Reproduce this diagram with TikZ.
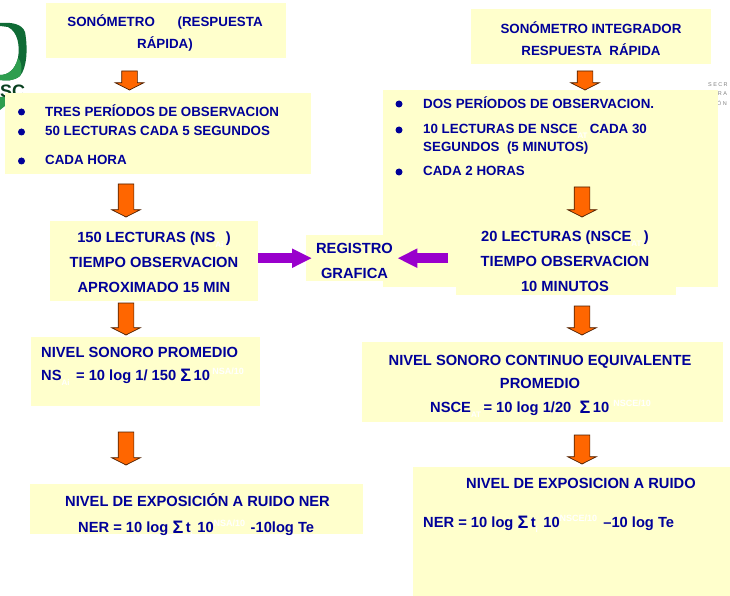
\documentclass[tikz,border=0pt]{standalone}
\usepackage{fontspec}
\setmainfont{Liberation Sans}
\usetikzlibrary{shapes.arrows,arrows.meta}
\definecolor{amarillo}{HTML}{FFFFCC}
\definecolor{azul}{HTML}{000099}
\definecolor{naranja}{HTML}{FF6600}
\definecolor{morado}{HTML}{9900CC}
\definecolor{verde}{HTML}{2E9E4F}
\definecolor{verdeosc}{HTML}{0F6B35}
\newcommand{\bajo}[1]{\raisebox{-5pt}{\fontsize{8}{8}\selectfont\textcolor{white}{#1}}}
\newcommand{\alto}[1]{\raisebox{6pt}{\fontsize{9}{9}\selectfont\textcolor{white}{#1}}}
\newcommand{\suma}{\raisebox{-1pt}{\fontsize{18}{18}\selectfont Σ}}
\tikzset{
	caja/.style={fill=amarillo, inner sep=0pt, anchor=north west},
	texto/.style={text=azul, inner sep=0pt, align=center, font=\fontsize{14.7}{25}\selectfont\bfseries},
	textochico/.style={texto, font=\fontsize{13.35}{22}\selectfont\bfseries},
	punto/.style={circle, fill=azul, inner sep=0pt, minimum size=7pt},
	flecha/.style={single arrow, draw=black!70!naranja, fill=naranja, line width=0.7pt, inner xsep=0pt, inner ysep=7.5pt, minimum width=28pt, single arrow head extend=6.5pt, single arrow tip angle=126, rotate=-90, minimum height=#1},
	flechamorada/.style={draw=morado, line width=10.5pt, -{Triangle[length=20pt,width=18pt]}},
	logotexto/.style={text=black!50, inner sep=0pt, anchor=west, font=\fontsize{5.5}{5.5}\selectfont\addfontfeature{LetterSpace=25}}
}
\begin{document}
\begin{tikzpicture}[x=1pt,y=-1pt]
	\useasboundingbox (0,0) rectangle (730,596);

	% logos behind the boxes
	\path[fill=verdeosc] (0,23) .. controls (12,22) and (22,24) .. (25,32) .. controls (28,48) and (27,68) .. (20,76) .. controls (14,81) and (6,81) .. (0,80) -- (0,75) .. controls (8,75) and (15,70) .. (18,58) .. controls (20,46) and (18,32) .. (8,27) -- (0,26) -- cycle;
	\path[fill=verde] (0,75) .. controls (8,75) and (15,70) .. (18,58) .. controls (21,60) and (23,70) .. (20,76) .. controls (14,81) and (6,81) .. (0,80) -- cycle;
	\path[fill=verde] (0,97) -- (5,97) -- (5,106) -- (0,110) -- cycle;
	\node[text=black!40!verdeosc, inner sep=0pt, anchor=base west, font=\fontsize{18}{18}\selectfont\bfseries] (logoss) at (0,98) {SC};
	\node[logotexto] (secr) at (708,85) {SECR};
	\node[logotexto] (tra) at (713,94) {TRA};
	\node[logotexto] (on) at (717,103) {ÓN};

	% boxes, left column
	\node[caja, minimum width=240pt, minimum height=55pt] (sonometro) at (46,3) {};
	\node[caja, minimum width=306pt, minimum height=81pt] (periodos) at (5,93) {};
	\node[caja, minimum width=208pt, minimum height=80pt] (lecturas) at (50,221) {};
	\node[caja, minimum width=229pt, minimum height=69pt] (promedio) at (31,337) {};
	\node[caja, minimum width=333pt, minimum height=50pt] (exposicion) at (30,484) {};

	% boxes, right column
	\node[caja, minimum width=240pt, minimum height=55pt] (integrador) at (471,9) {};
	\node[caja, minimum width=335pt, minimum height=197pt] (periodosint) at (383,90) {};
	\node[caja, minimum width=220pt, minimum height=70pt] (lecturasint) at (456,225) {};
	\node[caja, minimum width=361pt, minimum height=80pt] (promedioint) at (362,342) {};
	\node[caja, minimum width=317pt, minimum height=129pt] (exposicionint) at (413,467) {};

	% centre box
	\node[caja, minimum width=94pt, minimum height=46pt] (registro) at (306,235) {};

	% texts, left column
	\node[textochico] (tsonometro) at (165,33) {SONÓMETRO\hspace{1.7em}(RESPUESTA\\RÁPIDA)};
	\node[punto] (p1) at (21.5,112) {};
	\node[punto] (p2) at (21.5,132) {};
	\node[punto] (p3) at (21.5,161) {};
	\node[textochico, anchor=west] (t1) at (45,111) {TRES PERÍODOS DE OBSERVACION};
	\node[textochico, anchor=west] (t2) at (45,131) {50 LECTURAS CADA 5 SEGUNDOS};
	\node[textochico, anchor=west] (t3) at (45,160) {CADA HORA};
	\node[texto] (tlecturas) at (154,262.5) {150 LECTURAS (NS\bajo{Ai}\,)\\TIEMPO OBSERVACION\\APROXIMADO 15 MIN};
	\node[texto, anchor=west] (tpromedio) at (41,352) {NIVEL SONORO PROMEDIO};
	\node[texto, anchor=west] (fpromedio) at (41,377) {NS\bajo{Ai}\, = 10 log 1/ 150 \suma\,10\,\alto{NSA/10}};
	\node[texto, anchor=west] (texposicion) at (65,500) {NIVEL DE EXPOSICIÓN A RUIDO NER};
	\node[texto, anchor=west] (fexposicion) at (78,528.5) {NER = 10 log \suma\,t\bajo{i}\,\hspace{2pt}10\alto{NSA/10}\,\hspace{3pt}-10log Te};

	% texts, right column
	\node[textochico] (tintegrador) at (591,39) {SONÓMETRO INTEGRADOR\\RESPUESTA\ \ RÁPIDA};
	\node[punto] (q1) at (399,104) {};
	\node[punto] (q2) at (399,130) {};
	\node[punto] (q3) at (399,172) {};
	\node[textochico, anchor=west] (s1) at (423,103) {DOS PERÍODOS DE OBSERVACION.};
	\node[textochico, anchor=west] (s2) at (423,131.5) {10 LECTURAS DE NSCE\bajo{AT}\,CADA 30};
	\node[textochico, anchor=west] (s2b) at (423,148) {SEGUNDOS\ \ (5 MINUTOS)};
	\node[textochico, anchor=west] (s3) at (423,171) {CADA 2 HORAS};
	\node[texto] (tlecturasint) at (565,261) {20 LECTURAS (NSCE\bajo{AT}\,)\\TIEMPO OBSERVACION\\10 MINUTOS};
	\node[texto] (tpromedioint) at (540,372) {NIVEL SONORO CONTINUO EQUIVALENTE\\[-1.5pt]PROMEDIO};
	\node[texto, anchor=west] (fpromedioint) at (430,408.5) {NSCE\bajo{AT}\,= 10 log 1/20\ \ \suma\,10\ \alto{NSCE/10}};
	\node[texto, anchor=west] (texposicionint) at (466,483) {NIVEL DE EXPOSICION A RUIDO};
	\node[texto, anchor=west] (fexposicionint) at (423,523.5) {NER = 10 log \suma\,t\bajo{i}\,\hspace{3pt}10\alto{NSCE/10}\ \hspace{2pt}–10 log Te};
	\node[texto] (tregistro) at (354.5,260.5) {REGISTRO\\GRAFICA};

	% orange arrows
	\node[flecha=19pt] (f1) at (129.5,78.5) {};
	\node[flecha=33pt] (f2) at (126,198.5) {};
	\node[flecha=32pt] (f3) at (126,317) {};
	\node[flecha=33pt] (f4) at (126,446.5) {};
	\node[flecha=19pt] (g1) at (585,78.5) {};
	\node[flecha=30pt] (g2) at (582,200) {};
	\node[flecha=29pt] (g3) at (582,318.5) {};
	\node[flecha=29pt] (g4) at (582,447.5) {};

	% purple arrows
	\draw[flechamorada, shorten >=-6pt] (lecturas.east |- registro.west) -- (registro.west);
	\draw[flechamorada, shorten <=8pt, shorten >=-3pt] (lecturasint.west |- registro.east) -- (registro.east);
\end{tikzpicture}
\end{document}
